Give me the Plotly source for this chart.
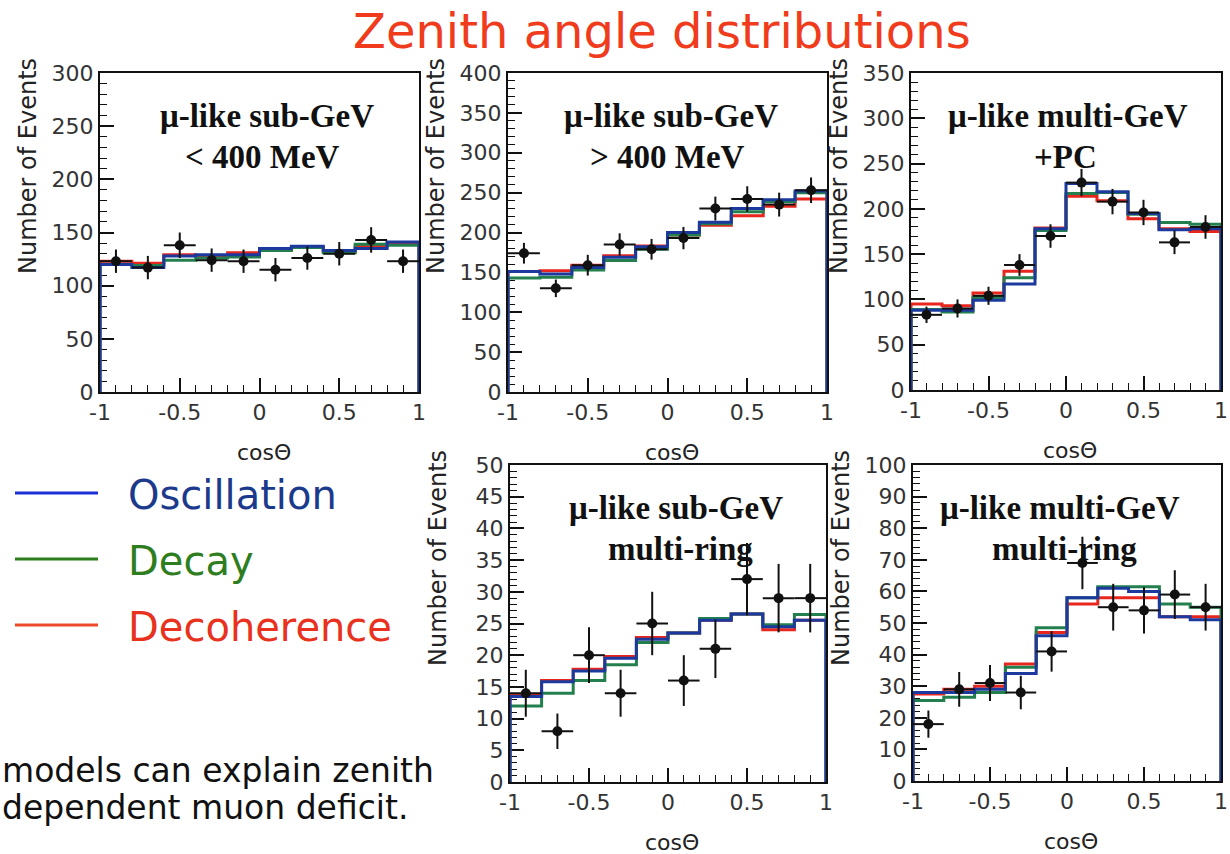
import plotly.graph_objects as go

W, H = 1230, 854

# ---------------- data ----------------
bin_left = [-1.0, -0.8, -0.6, -0.4, -0.2, 0.0, 0.2, 0.4, 0.6, 0.8]
bin_center = [-0.9, -0.7, -0.5, -0.3, -0.1, 0.1, 0.3, 0.5, 0.7, 0.9]

# Panel 1: mu-like sub-GeV < 400 MeV
p1_data = [123, 117, 138, 124, 123, 115, 126, 130, 143, 123]
p1_err = [11, 11, 12, 11, 11, 11, 11, 11, 12, 11]
p1_osc = [120, 117, 128, 129, 129, 135, 137, 133, 135, 141]
p1_dec = [120, 119, 124, 126, 127, 133, 136, 131, 139, 138]
p1_dco = [123, 121, 129, 128, 131, 133, 136, 132, 137, 140]

# Panel 2: mu-like sub-GeV > 400 MeV
p2_data = [174, 130, 159, 185, 179, 193, 230, 242, 235, 253]
p2_err = [13, 11, 13, 14, 13, 14, 15, 16, 15, 16]
p2_osc = [151, 148, 156, 169, 182, 200, 213, 230, 241, 252]
p2_dec = [143, 144, 153, 165, 179, 197, 211, 226, 239, 250]
p2_dco = [151, 152, 159, 171, 183, 197, 209, 221, 233, 242]

# Panel 3: mu-like multi-GeV + PC
p3_data = [83, 90, 104, 138, 170, 229, 208, 196, 163, 180]
p3_err = [9, 10, 10, 12, 13, 15, 14, 14, 13, 13]
p3_osc = [88, 88, 99, 117, 178, 228, 219, 195, 177, 178]
p3_dec = [89, 86, 102, 124, 176, 217, 218, 194, 185, 183]
p3_dco = [95, 93, 107, 131, 179, 214, 209, 189, 178, 175]

# Panel 4: mu-like sub-GeV multi-ring
p4_data = [14, 8, 20, 14, 25, 16, 21, 32, 29, 29]
p4_err = [3.7, 2.8, 4.4, 3.7, 5.0, 4.0, 4.6, 5.7, 5.4, 5.4]
p4_osc = [13.5, 15.8, 17.5, 19.5, 22.5, 23.5, 25.5, 26.5, 24.5, 25.5]
p4_dec = [12.0, 14.0, 16.0, 18.5, 22.0, 23.5, 25.8, 26.5, 24.8, 26.4]
p4_dco = [13.8, 16.0, 17.8, 19.8, 22.8, 23.5, 25.5, 26.5, 24.0, 25.5]

# Panel 5: mu-like multi-GeV multi-ring
p5_data = [18, 29, 31, 28, 41, 69, 55, 54, 59, 55]
p5_err = [4.3, 5.5, 5.7, 5.3, 6.4, 8.3, 7.4, 7.3, 7.7, 7.4]
p5_osc = [28, 28, 29, 34, 46, 58, 61, 60, 52, 51]
p5_dec = [25.5, 26.5, 28, 36, 48.5, 58, 61.5, 61.5, 56, 55]
p5_dco = [27.5, 29, 30, 37, 47, 56, 58, 58, 52, 52]

panel_labels = [
    ["μ-like sub-GeV", "< 400 MeV"],
    ["μ-like sub-GeV", "> 400 MeV"],
    ["μ-like multi-GeV", "+PC"],
    ["μ-like sub-GeV", "multi-ring"],
    ["μ-like multi-GeV", "multi-ring"],
]
y_ranges = [300, 400, 350, 50, 100]
y_dticks = [50, 50, 50, 5, 10]
y_minor = [10, 10, 10, 1, 2]

legend_names = ["Oscillation", "Decay", "Decoherence"]
title_text = "Zenith angle distributions"
bottom_text = ["models can explain zenith", "dependent muon deficit."]

# ---------------- style ----------------
C_OSC = "#1c3a9e"
C_DEC = "#23804e"
C_DCO = "#e8261e"
LEG_LINE = ["#1a2fd8", "#2e7d1e", "#ee4a2a"]
LEG_TEXT = ["#1c3a8c", "#2e7d1e", "#e8321e"]
SANS = "DejaVu Sans, Verdana, sans-serif"
SERIF = "Liberation Serif, Times New Roman, serif"

# pixel boxes of panels: (x0, x1, y0_top, y1_bottom)
boxes = [
    (100, 419, 73, 392),
    (508, 827, 73, 392),
    (911, 1221, 73, 390),
    (510, 826, 465, 782),
    (913, 1221, 465, 781),
]
# label centre x for (line1, line2)
label_cx = [(267, 262), (671, 667), (1068, 1065), (676, 680), (1060, 1064)]


def px(x):
    return x / W


def py(y):
    return 1 - y / H


panels = [
    (p1_data, p1_err, p1_osc, p1_dec, p1_dco),
    (p2_data, p2_err, p2_osc, p2_dec, p2_dco),
    (p3_data, p3_err, p3_osc, p3_dec, p3_dco),
    (p4_data, p4_err, p4_osc, p4_dec, p4_dco),
    (p5_data, p5_err, p5_osc, p5_dec, p5_dco),
]

fig = go.Figure()
layout = dict(
    width=W, height=H,
    margin=dict(l=0, r=0, t=0, b=0, pad=0),
    paper_bgcolor="white", plot_bgcolor="white",
    showlegend=False,
)
annotations = []
shapes = []


def hist_xy(vals):
    xs = [-1.0] + list(bin_left) + [1.0, 1.0]
    ys = [0] + list(vals) + [vals[-1], 0]
    return xs, ys


for i, (dat, err, osc, dec, dco) in enumerate(panels):
    n = "" if i == 0 else str(i + 1)
    xa, ya = "x" + n, "y" + n
    for vals, col in ((dco, C_DCO), (dec, C_DEC), (osc, C_OSC)):
        xs, ys = hist_xy(vals)
        fig.add_trace(go.Scatter(
            x=xs, y=ys, mode="lines", line=dict(color=col, width=3, shape="hv"),
            xaxis=xa, yaxis=ya, hoverinfo="skip"))
    fig.add_trace(go.Scatter(
        x=bin_center, y=dat, mode="markers",
        marker=dict(color="#111111", size=10),
        error_y=dict(type="data", array=err, width=0, thickness=2, color="#111111"),
        error_x=dict(type="constant", value=0.1, width=0, thickness=2, color="#111111"),
        xaxis=xa, yaxis=ya, cliponaxis=False))

    x0, x1, yt, yb = boxes[i]
    layout["xaxis" + n] = dict(
        domain=[px(x0), px(x1)], anchor=ya, range=[-1, 1],
        tickvals=[-1, -0.5, 0, 0.5, 1], ticktext=["-1", "-0.5", "0", "0.5", "1"],
        ticks="inside", ticklen=14, tickwidth=1.5, tickcolor="#111",
        minor=dict(tick0=-1, dtick=0.1, ticks="inside", ticklen=7, tickwidth=1.2, tickcolor="#111"),
        showline=True, linecolor="#111", linewidth=2, mirror=True,
        showgrid=False, zeroline=False, layer="below traces",
        tickfont=dict(family=SANS, size=22, color="#333"),
        ticklabeloverflow="allow",
        fixedrange=True, automargin=False)
    layout["yaxis" + n] = dict(
        domain=[py(yb), py(yt)], anchor=xa, range=[0, y_ranges[i]],
        tick0=0, dtick=y_dticks[i],
        ticks="inside", ticklen=14, tickwidth=1.5, tickcolor="#111",
        minor=dict(tick0=0, dtick=y_minor[i], ticks="inside", ticklen=7, tickwidth=1.2, tickcolor="#111"),
        showline=True, linecolor="#111", linewidth=2, mirror=True,
        showgrid=False, zeroline=False, layer="below traces",
        tickfont=dict(family=SANS, size=22, color="#333"),
        ticklabeloverflow="allow",
        fixedrange=True, automargin=False)

    # axis titles
    cx = (x0 + x1) / 2
    annotations.append(dict(
        x=px(cx + 4), y=py(yb + 60), xref="paper", yref="paper", text="cosΘ",
        showarrow=False, xanchor="center", yanchor="middle",
        font=dict(family=SANS, size=22, color="#222")))
    annotations.append(dict(
        x=px(x0 - 72), y=py(yt + 93), xref="paper", yref="paper", text="Number of Events",
        showarrow=False, textangle=-90, xanchor="center", yanchor="middle",
        font=dict(family=SANS, size=24, color="#222")))
    # panel labels
    l1, l2 = panel_labels[i]
    c1, c2 = label_cx[i]
    annotations.append(dict(
        x=px(c1), y=py(yt + 43), xref="paper", yref="paper", text="<b>" + l1 + "</b>",
        showarrow=False, xanchor="center", yanchor="middle",
        font=dict(family=SERIF, size=33, color="#111")))
    annotations.append(dict(
        x=px(c2), y=py(yt + 84), xref="paper", yref="paper", text="<b>" + l2 + "</b>",
        showarrow=False, xanchor="center", yanchor="middle",
        font=dict(family=SERIF, size=33, color="#111")))

# title
annotations.append(dict(
    x=px(662), y=py(31), xref="paper", yref="paper", text=title_text,
    showarrow=False, xanchor="center", yanchor="middle",
    font=dict(family=SANS, size=48, color="#f03c1c")))

# legend (lines + coloured texts)
leg_y = [493, 559, 625]
for k in range(3):
    shapes.append(dict(type="line", xref="paper", yref="paper",
                       x0=px(15), x1=px(98), y0=py(leg_y[k]), y1=py(leg_y[k]),
                       line=dict(color=LEG_LINE[k], width=3)))
    annotations.append(dict(
        x=px(126), y=py(leg_y[k] + 2), xref="paper", yref="paper", text=legend_names[k],
        showarrow=False, xanchor="left", yanchor="middle",
        font=dict(family=SANS, size=40, color=LEG_TEXT[k])))

# bottom text
for k, t in enumerate(bottom_text):
    annotations.append(dict(
        x=px(0), y=py(770 + 37 * k), xref="paper", yref="paper", text=t,
        showarrow=False, xanchor="left", yanchor="middle",
        font=dict(family=SANS, size=33, color="#111")))

layout["annotations"] = annotations
layout["shapes"] = shapes
fig.update_layout(**layout)
fig.write_html("out.html",
               post_script="document.body.style.margin='0px';document.body.style.padding='0px';")
